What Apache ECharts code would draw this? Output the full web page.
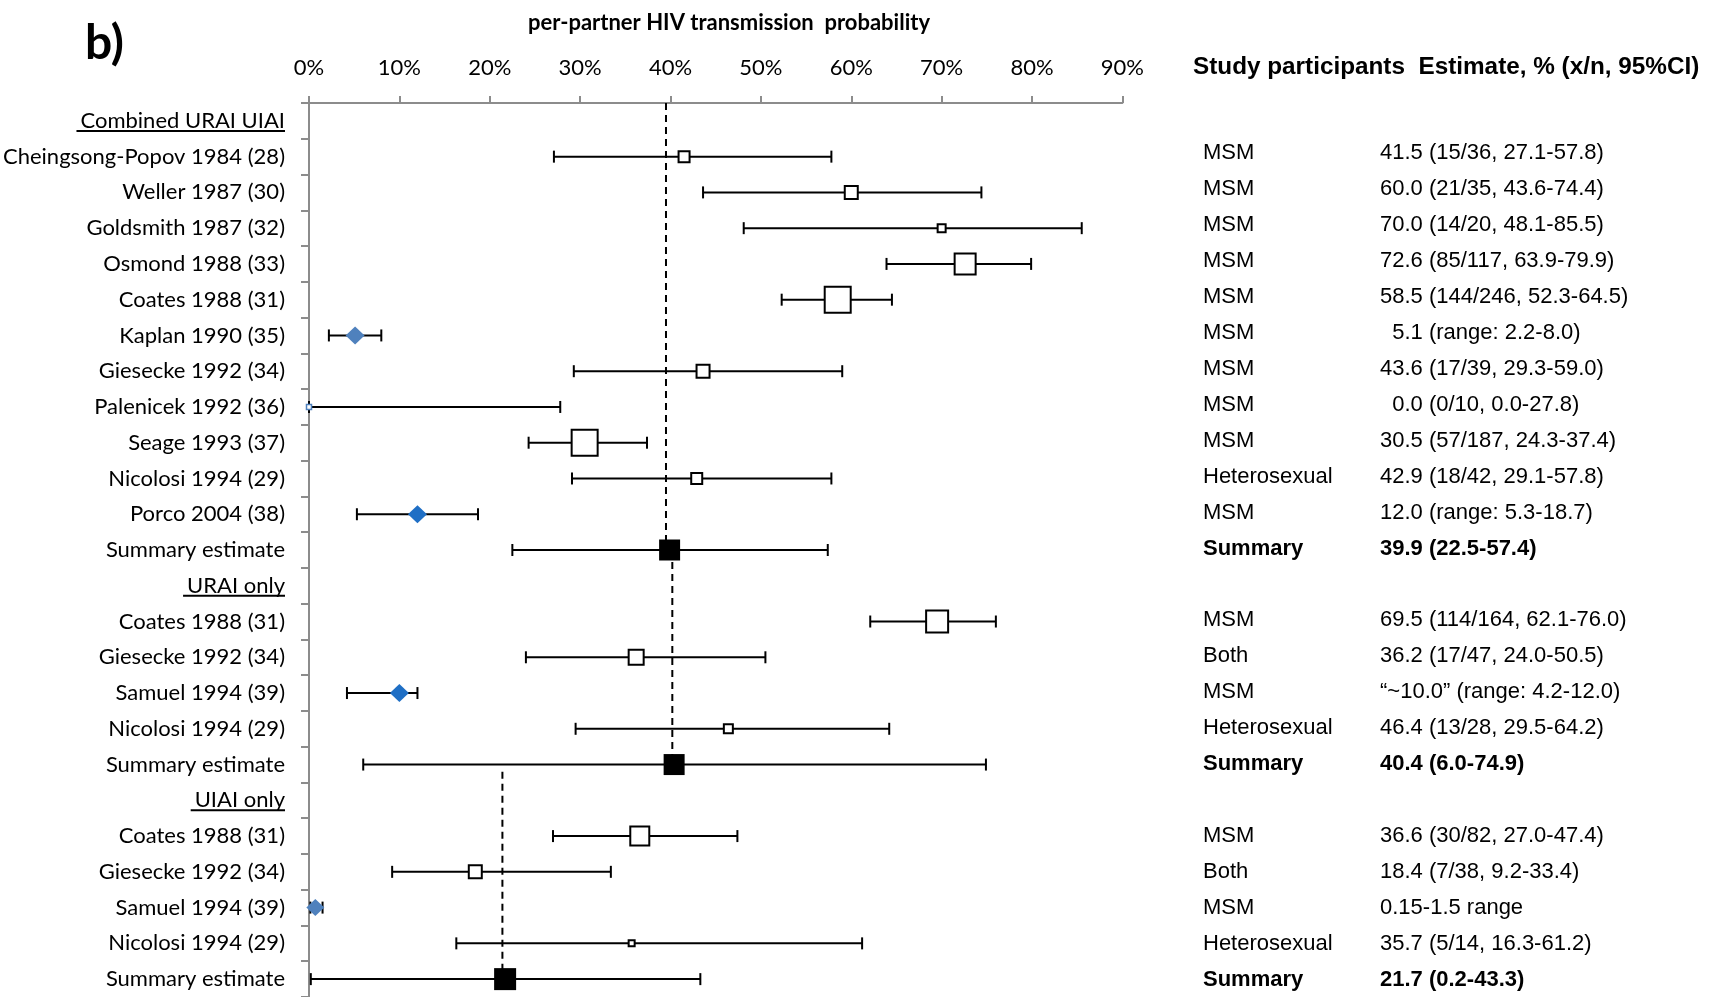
<!DOCTYPE html>
<html><head><meta charset="utf-8">
<script src="https://cdn.jsdelivr.net/npm/echarts@6/dist/echarts.min.js"></script>
<style>html,body{margin:0;padding:0;background:#fff}#c{width:1711px;height:997px}</style>
</head><body><div id="c"></div>
<script>
// ---------------- data ----------------
const rowLabels = ['Combined URAI UIAI', 'Cheingsong-Popov 1984 (28)', 'Weller 1987 (30)', 'Goldsmith 1987 (32)',
  'Osmond 1988 (33)', 'Coates 1988 (31)', 'Kaplan 1990 (35)', 'Giesecke 1992 (34)', 'Palenicek 1992 (36)',
  'Seage 1993 (37)', 'Nicolosi 1994 (29)', 'Porco 2004 (38)', 'Summary estimate', 'URAI only',
  'Coates 1988 (31)', 'Giesecke 1992 (34)', 'Samuel 1994 (39)', 'Nicolosi 1994 (29)', 'Summary estimate',
  'UIAI only', 'Coates 1988 (31)', 'Giesecke 1992 (34)', 'Samuel 1994 (39)', 'Nicolosi 1994 (29)', 'Summary estimate'];
const headerRows = [0, 13, 19];
const estimate = [null, 41.5, 60.0, 70.0, 72.6, 58.5, 5.1, 43.6, 0.0, 30.5, 42.9, 12.0, 39.9,
  null, 69.5, 36.2, 10.0, 46.4, 40.4, null, 36.6, 18.4, 0.7, 35.7, 21.7];
const lower = [null, 27.1, 43.6, 48.1, 63.9, 52.3, 2.2, 29.3, 0.0, 24.3, 29.1, 5.3, 22.5,
  null, 62.1, 24.0, 4.2, 29.5, 6.0, null, 27.0, 9.2, 0.15, 16.3, 0.2];
const upper = [null, 57.8, 74.4, 85.5, 79.9, 64.5, 8.0, 59.0, 27.8, 37.4, 57.8, 18.7, 57.4,
  null, 76.0, 50.5, 12.0, 64.2, 74.9, null, 47.4, 33.4, 1.5, 61.2, 43.3];
// study weight shown by box size
const studyWeight = [0, 11, 13, 8, 21, 26, 19, 13, 5, 26, 11, 19, 21,
  0, 22, 15, 19, 9, 21, 0, 19, 13, 18, 6, 22];
const markerKind = ['', 'study', 'study', 'study', 'study', 'study', 'rangeA', 'study', 'zero', 'study', 'study', 'rangeB', 'summary',
  '', 'study', 'study', 'rangeB', 'study', 'summary', '', 'study', 'study', 'rangeA', 'study', 'summary'];
const participants = ['', 'MSM', 'MSM', 'MSM', 'MSM', 'MSM', 'MSM', 'MSM', 'MSM', 'MSM', 'Heterosexual', 'MSM', 'Summary',
  '', 'MSM', 'Both', 'MSM', 'Heterosexual', 'Summary', '', 'MSM', 'Both', 'MSM', 'Heterosexual', 'Summary'];
const estimateText = ['', '41.5 (15/36, 27.1-57.8)', '60.0 (21/35, 43.6-74.4)', '70.0 (14/20, 48.1-85.5)',
  '72.6 (85/117, 63.9-79.9)', '58.5 (144/246, 52.3-64.5)', '  5.1 (range: 2.2-8.0)', '43.6 (17/39, 29.3-59.0)',
  '  0.0 (0/10, 0.0-27.8)', '30.5 (57/187, 24.3-37.4)', '42.9 (18/42, 29.1-57.8)', '12.0 (range: 5.3-18.7)',
  '39.9 (22.5-57.4)', '', '69.5 (114/164, 62.1-76.0)', '36.2 (17/47, 24.0-50.5)', '\u201c~10.0\u201d (range: 4.2-12.0)',
  '46.4 (13/28, 29.5-64.2)', '40.4 (6.0-74.9)', '', '36.6 (30/82, 27.0-47.4)', '18.4 (7/38, 9.2-33.4)',
  '0.15-1.5 range', '35.7 (5/14, 16.3-61.2)', '21.7 (0.2-43.3)'];
const xTicks = [0, 10, 20, 30, 40, 50, 60, 70, 80, 90];
// summary reference lines: [x value, from row, to row]
const refLines = [[39.5, -0.5, 12], [40.2, 12, 18], [21.4, 18.2, 24]];
const titleText = 'per-partner HIV transmission  probability';
const panelLabel = 'b)';
const rightHeader = 'Study participants  Estimate, % (x/n, 95%CI)';

// ---------------- chart ----------------
const LEFT_FONT = 'Lato';
const RIGHT_FONT = 'Liberation Sans';
const chart = echarts.init(document.getElementById('c'), null, {renderer: 'canvas'});
const nRows = rowLabels.length;
const rowIdx = rowLabels.map((_, i) => i);

const barData = rowIdx.filter(i => lower[i] !== null).map(i => [lower[i], upper[i], i]);

function markerItem(i) {
  const k = markerKind[i];
  const s = studyWeight[i];
  const v = [estimate[i], i];
  if (k === 'summary') return {value: v, symbol: 'rect', symbolSize: s, itemStyle: {color: '#000', borderWidth: 0, opacity: 1}};
  if (k === 'rangeA') return {value: v, symbol: 'diamond', symbolSize: [s, s - 1], itemStyle: {color: '#4f81bd', borderWidth: 0, opacity: 1}};
  if (k === 'rangeB') return {value: v, symbol: 'diamond', symbolSize: [s, s - 1], itemStyle: {color: '#1f6fc5', borderWidth: 0, opacity: 1}};
  if (k === 'zero') return {value: v, symbol: 'rect', symbolSize: s, itemStyle: {color: '#fff', borderColor: '#4f81bd', borderWidth: 1.5, opacity: 1}};
  return {value: v, symbol: 'rect', symbolSize: s, itemStyle: {color: '#fff', borderColor: '#000', borderWidth: 2, opacity: 1}};
}
const markerData = rowIdx.filter(i => estimate[i] !== null).map(markerItem);

const grayAxis = '#8c8c8c';
const summaryRows = rowIdx.filter(i => participants[i] === 'Summary');

const refSeries = refLines.map((r) => ({
  type: 'line', xAxisIndex: 0, yAxisIndex: 1, symbol: 'none', silent: true, z: 1,
  data: [[r[0], r[1]], [r[0], r[2]]],
  lineStyle: {color: '#000', width: 2, type: [7, 5], opacity: 1}
}));

const option = {
  animation: false,
  backgroundColor: '#fff',
  grid: [
    {left: 309, right: 588.6, top: 103, bottom: 0, outerBoundsMode: 'none', containLabel: false},
    {left: 1100, width: 95, top: 99, height: 899, outerBoundsMode: 'none', containLabel: false}
  ],
  xAxis: [
    {type: 'value', gridIndex: 0, position: 'top', min: xTicks[0], max: xTicks[xTicks.length - 1], interval: xTicks[1] - xTicks[0],
      axisLine: {show: true, onZero: false, lineStyle: {color: grayAxis, width: 2}},
      axisTick: {show: true, length: 7, inside: false, lineStyle: {color: grayAxis, width: 2}},
      splitLine: {show: false},
      axisLabel: {formatter: '{value}%', fontFamily: LEFT_FONT, fontSize: 22, color: '#000', margin: 24}},
    {type: 'value', gridIndex: 1, show: false, min: 0, max: 1}
  ],
  yAxis: [
    {type: 'category', gridIndex: 0, data: rowLabels, inverse: true, position: 'left', boundaryGap: true,
      axisLine: {show: true, onZero: false, lineStyle: {color: grayAxis, width: 2}},
      axisTick: {show: true, length: 8, interval: 0, alignWithLabel: false, lineStyle: {color: grayAxis, width: 2}},
      splitLine: {show: false},
      axisLabel: {interval: 0, fontFamily: LEFT_FONT, fontSize: 22, color: '#000', margin: 24}},
    {type: 'value', gridIndex: 0, show: false, min: -0.5, max: nRows - 0.5, inverse: true},
    {type: 'category', gridIndex: 1, data: participants, inverse: true, position: 'right', boundaryGap: true,
      axisLine: {show: false}, axisTick: {show: false}, splitLine: {show: false},
      axisLabel: {interval: 0, align: 'left', margin: 8, fontFamily: RIGHT_FONT, fontSize: 22, color: '#000',
        formatter: (v, i) => summaryRows.includes(i) ? '{b|' + v + '}' : v,
        rich: {b: {fontFamily: RIGHT_FONT, fontSize: 22, fontWeight: 'bold', color: '#000'}}}},
    {type: 'category', gridIndex: 1, data: estimateText, inverse: true, position: 'right', offset: 177, boundaryGap: true,
      axisLine: {show: false}, axisTick: {show: false}, splitLine: {show: false},
      axisLabel: {interval: 0, align: 'left', margin: 8, fontFamily: RIGHT_FONT, fontSize: 22, color: '#000',
        formatter: (v, i) => summaryRows.includes(i) ? '{b|' + v + '}' : v,
        rich: {b: {fontFamily: RIGHT_FONT, fontSize: 22, fontWeight: 'bold', color: '#000'}}}}
  ],
  series: [
    ...refSeries,
    {
      type: 'custom', xAxisIndex: 0, yAxisIndex: 1, z: 2, silent: true,
      data: barData,
      encode: {x: [0, 1], y: 2},
      renderItem(params, api) {
        const lo = api.coord([api.value(0), api.value(2)]);
        const hi = api.coord([api.value(1), api.value(2)]);
        const c = 6;
        const style = {stroke: '#000', lineWidth: 2};
        return {type: 'group', children: [
          {type: 'line', shape: {x1: lo[0], y1: lo[1], x2: hi[0], y2: hi[1]}, style},
          {type: 'line', shape: {x1: lo[0], y1: lo[1] - c, x2: lo[0], y2: lo[1] + c}, style},
          {type: 'line', shape: {x1: hi[0], y1: hi[1] - c, x2: hi[0], y2: hi[1] + c}, style}
        ]};
      }
    },
    {type: 'scatter', xAxisIndex: 0, yAxisIndex: 1, z: 3, silent: true, data: markerData, itemStyle: {opacity: 1}}
  ],
  graphic: [
    {id: 'panel', type: 'text', x: 85, y: 44, style: {text: panelLabel, font: 'bold 48px ' + LEFT_FONT, fill: '#000', textAlign: 'left', textVerticalAlign: 'middle'}},
    {id: 'title', type: 'text', x: 729, y: 23, style: {text: titleText, font: 'bold 22px ' + LEFT_FONT, fill: '#000', textAlign: 'center', textVerticalAlign: 'middle'}},
    {id: 'rhead', type: 'text', x: 1193, y: 67, style: {text: rightHeader, font: 'bold 24.3px ' + RIGHT_FONT, fill: '#000', textAlign: 'left', textVerticalAlign: 'middle'}}
  ]
};
chart.setOption(option);

// underline the section headers (positions from the axis scale)
const ctx = document.createElement('canvas').getContext('2d');
ctx.font = '22px ' + LEFT_FONT;
const labelRight = 309 - 24;
const lines = headerRows.map((r, k) => {
  const y = chart.convertToPixel({yAxisIndex: 1}, r) + 10;
  const w = ctx.measureText(rowLabels[r]).width;
  return {id: 'ul' + k, type: 'line', shape: {x1: labelRight - w - 4, y1: y, x2: labelRight, y2: y}, style: {stroke: '#000', lineWidth: 2}};
});
chart.setOption({graphic: lines});
</script>
</body></html>
